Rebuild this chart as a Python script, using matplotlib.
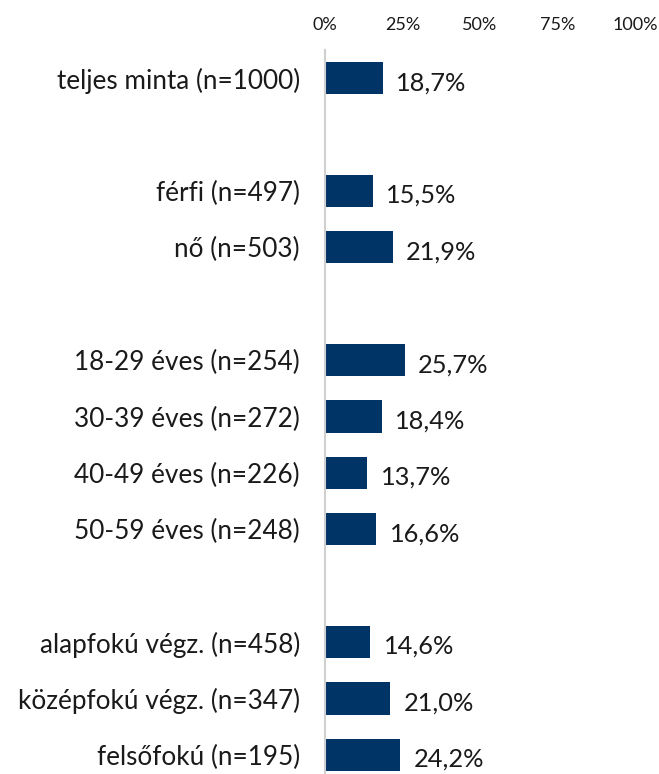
import matplotlib
matplotlib.use("Agg")
import matplotlib.pyplot as plt

# adatok (a kép alapján)
kategoriak = ["teljes minta (n=1000)", "",
              "férfi (n=497)", "nő (n=503)", "",
              "18-29 éves (n=254)", "30-39 éves (n=272)",
              "40-49 éves (n=226)", "50-59 éves (n=248)", "",
              "alapfokú végz. (n=458)", "középfokú végz. (n=347)",
              "felsőfokú (n=195)"]
ertekek = [18.7, None, 15.5, 21.9, None, 25.7, 18.4, 13.7, 16.6, None,
           14.6, 21.0, 24.2]
tick_ertekek = [0, 25, 50, 75, 100]
tick_cimkek = ["0%", "25%", "50%", "75%", "100%"]

SZIN = "#003366"
plt.rcParams["font.family"] = ["Lato", "DejaVu Sans"]

fig = plt.figure(figsize=(6.59, 7.74), dpi=100)
W, H = 659, 774
ax = fig.add_axes([325 / W, 0, 310 / W, (774 - 50) / H])

pos = list(range(len(kategoriak)))
for y, v in zip(pos, ertekek):
    if v is None:
        continue
    ax.barh(y, v, height=0.57, color=SZIN)
    ax.text(v + 4.3, y + 0.08, f"{v:.1f}%".replace(".", ","),
            ha="left", va="center", fontsize=18.3, color="#1a1a1a")

ax.set_xlim(0, 100)
ax.set_ylim(12.34, -0.5)
ax.set_yticks(pos, kategoriak, fontsize=18.8, color="#1a1a1a")
ax.set_xticks(tick_ertekek, tick_cimkek, fontsize=13, color="#1a1a1a")
ax.xaxis.tick_top()
ax.tick_params(axis="both", length=0)
ax.tick_params(axis="y", pad=18)
ax.tick_params(axis="x", pad=12)
for s in ["top", "right", "bottom"]:
    ax.spines[s].set_visible(False)
ax.spines["left"].set_color("#d0d0d0")
ax.spines["left"].set_linewidth(1.5)

fig.savefig("out.png", dpi=100)
